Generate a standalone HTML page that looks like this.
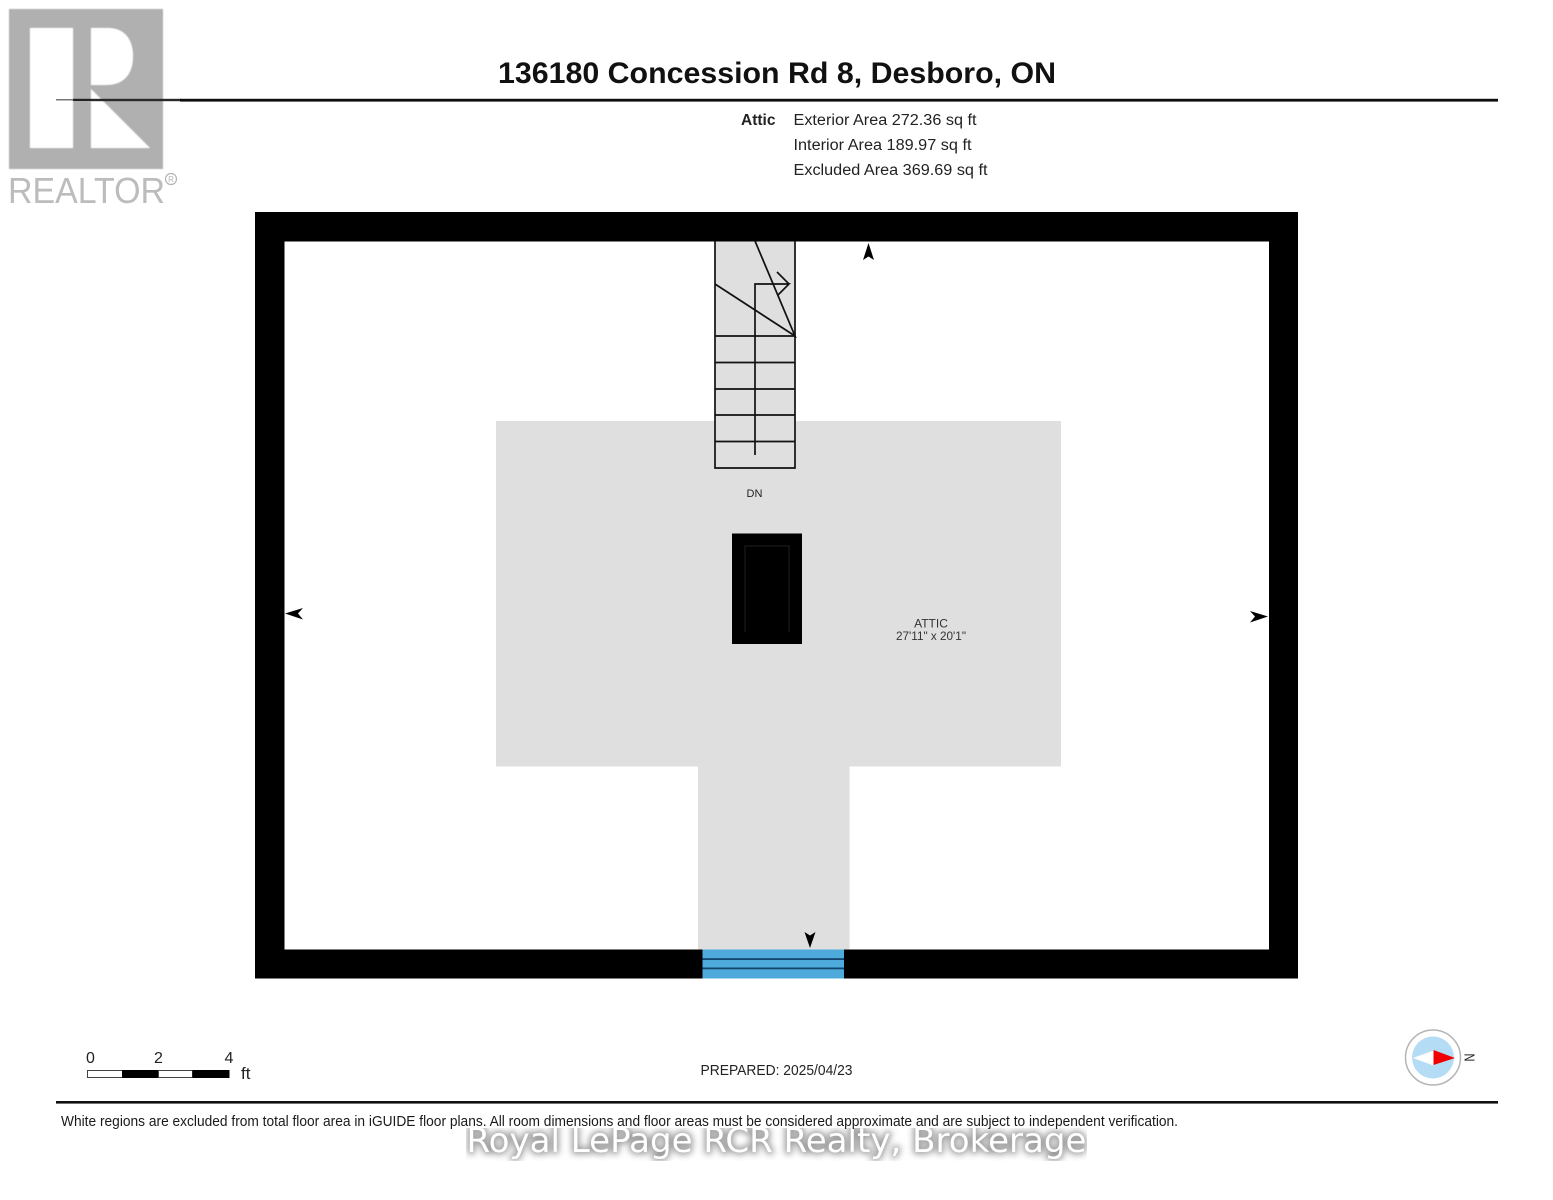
<!DOCTYPE html>
<html>
<head>
<meta charset="utf-8">
<style>
html,body{margin:0;padding:0;background:#fff;}
svg{display:block;}
text{font-family:"Liberation Sans",Arial,sans-serif;}
</style>
</head>
<body>
<svg xmlns="http://www.w3.org/2000/svg" width="1553" height="1200" viewBox="0 0 1553 1200">
<defs>
<filter id="glow" x="-5%" y="-60%" width="110%" height="220%"><feGaussianBlur stdDeviation="3.500"/></filter>
<filter id="soft" x="-5%" y="-5%" width="110%" height="110%"><feGaussianBlur stdDeviation="0.500"/></filter>
<clipPath id="wm"><rect x="466" y="1128" width="621" height="33"/></clipPath>
</defs>
<rect width="1553" height="1200" fill="#fff"/>

<!-- Realtor logo -->
<g filter="url(#soft)">
<rect x="9" y="9" width="154" height="160" fill="#b0b0b0"/>
<rect x="30" y="28" width="43" height="120" fill="#fff"/>
<path d="M91 28H108C125 28 133 40 133 56C133 74 124 85 106 85H91Z" fill="#fff"/>
<path d="M91 89L150 148H91Z" fill="#fff"/>
</g>
<text x="8" y="203" font-size="36" fill="#bcbcbc" textLength="157" lengthAdjust="spacingAndGlyphs">REALTOR</text>
<circle cx="171" cy="179" r="5.500" fill="none" stroke="#b4b4b4" stroke-width="1.200"/>
<text x="171" y="182" font-size="8" fill="#b4b4b4" text-anchor="middle">R</text>

<!-- Header -->
<text x="777" y="83" font-size="29.500" font-weight="700" text-anchor="middle" fill="#111" textLength="558" lengthAdjust="spacingAndGlyphs">136180 Concession Rd 8, Desboro, ON</text>
<rect x="73" y="98.800" width="18" height="2.200" fill="#222"/>
<rect x="56" y="99" width="17" height="1.500" fill="#777"/>
<rect x="91" y="98.800" width="90" height="2.400" fill="#2a2a2a"/>
<rect x="180" y="98.800" width="1318" height="2.800" fill="#0c0c0c"/>
<text x="741" y="125" font-size="15.500" font-weight="700" fill="#222">Attic</text>
<text x="793.500" y="125" font-size="15.500" fill="#222" textLength="183" lengthAdjust="spacingAndGlyphs">Exterior Area 272.36 sq ft</text>
<text x="793.500" y="150" font-size="15.500" fill="#222" textLength="178" lengthAdjust="spacingAndGlyphs">Interior Area 189.97 sq ft</text>
<text x="793.500" y="175" font-size="15.500" fill="#222" textLength="194" lengthAdjust="spacingAndGlyphs">Excluded Area 369.69 sq ft</text>

<!-- Floor -->
<rect x="496" y="421" width="565" height="345.500" fill="#dfdfdf"/>
<rect x="698" y="766" width="151.500" height="184" fill="#dfdfdf"/>
<rect x="715" y="241" width="80" height="181" fill="#dfdfdf"/>

<!-- Walls -->
<path fill-rule="evenodd" d="M255 212H1298V978.500H255ZM284.500 241.500V949.500H1269V241.500Z" fill="#000"/>

<!-- Window -->
<rect x="702.500" y="949.500" width="141.500" height="29" fill="#4faadc"/>
<rect x="702.500" y="958.200" width="141.500" height="1.800" fill="#12466e"/>
<rect x="702.500" y="967.500" width="141.500" height="1.800" fill="#12466e"/>

<!-- Stairs -->
<g fill="none" stroke="#111" stroke-width="1.700">
<path d="M715 241V468H795V241"/>
<path d="M715 336H795M715 362.500H795M715 389H795M715 415H795M715 441.500H795"/>
<path d="M755 455V284H789L778 295M789 284L777 272"/>
<path d="M755 241L795 336L715 284"/>
</g>

<!-- Chimney -->
<rect x="732" y="533.500" width="70" height="110.500" fill="#000"/>
<path d="M745 632V546H789V632" fill="none" stroke="#202020" stroke-width="1"/>

<!-- Arrowheads -->
<path d="M868.500 243L874 260L868.500 256.500L863 260Z" fill="#000"/>
<path d="M285 613.500L303 608L298 613.500L303 619.500Z" fill="#000"/>
<path d="M1268 616.500L1250 611L1255 616.500L1250 622.500Z" fill="#000"/>
<path d="M810 948L804.500 932L810 935.500L815.500 932Z" fill="#000"/>

<!-- Labels -->
<text x="754.500" y="497" font-size="11" text-anchor="middle" fill="#222">DN</text>
<text x="931" y="627.500" font-size="12" text-anchor="middle" fill="#333">ATTIC</text>
<text x="931" y="640" font-size="11.500" text-anchor="middle" fill="#333" textLength="70" lengthAdjust="spacingAndGlyphs">27'11" x 20'1"</text>

<!-- Scale -->
<text x="90.500" y="1063" font-size="16" text-anchor="middle" fill="#222">0</text>
<text x="158.500" y="1063" font-size="16" text-anchor="middle" fill="#222">2</text>
<text x="229" y="1063" font-size="16" text-anchor="middle" fill="#222">4</text>
<rect x="87.500" y="1070.500" width="35" height="7" fill="#fff" stroke="#444" stroke-width="1"/>
<rect x="122" y="1070" width="36.500" height="8" fill="#000"/>
<rect x="158.500" y="1070.500" width="34" height="7" fill="#fff" stroke="#444" stroke-width="1"/>
<rect x="192.500" y="1070" width="37" height="8" fill="#000"/>
<text x="241" y="1079" font-size="17" fill="#222">ft</text>

<text x="776.500" y="1075" font-size="14.500" text-anchor="middle" fill="#222" textLength="152" lengthAdjust="spacingAndGlyphs">PREPARED: 2025/04/23</text>

<!-- Compass -->
<circle cx="1433" cy="1057.500" r="27.500" fill="#fff" stroke="#b5b5b5" stroke-width="1.500"/>
<circle cx="1433" cy="1057.500" r="21" fill="#b5dcf5"/>
<path d="M1413 1058L1433.500 1050.500V1065.500Z" fill="#fff"/>
<path d="M1433.500 1050L1455 1058L1433.500 1065Z" fill="#f00000"/>
<text x="0" y="0" font-size="15" text-anchor="middle" fill="#222" textLength="8" lengthAdjust="spacingAndGlyphs" transform="translate(1464.500 1057.500) rotate(90)">N</text>

<!-- Footer -->
<rect x="56" y="1101" width="1442" height="2.600" fill="#111"/>

<!-- Watermark -->
<g clip-path="url(#wm)">
<rect x="466" y="1128" width="621" height="33" fill="#fff"/>
<text x="776.500" y="1152" text-anchor="middle" font-size="34" fill="#999" stroke="#999" stroke-width="4" filter="url(#glow)" textLength="620" lengthAdjust="spacingAndGlyphs" style="font-family:'DejaVu Sans',sans-serif">Royal LePage RCR Realty, Brokerage</text>
<text x="776.500" y="1152" text-anchor="middle" font-size="34" fill="#fff" textLength="620" lengthAdjust="spacingAndGlyphs" style="font-family:'DejaVu Sans',sans-serif">Royal LePage RCR Realty, Brokerage</text>
</g>

<text x="61" y="1126" font-size="14.500" fill="#1a1a1a" textLength="1117" lengthAdjust="spacingAndGlyphs">White regions are excluded from total floor area in iGUIDE floor plans. All room dimensions and floor areas must be considered approximate and are subject to independent verification.</text>
</svg>
</body>
</html>
